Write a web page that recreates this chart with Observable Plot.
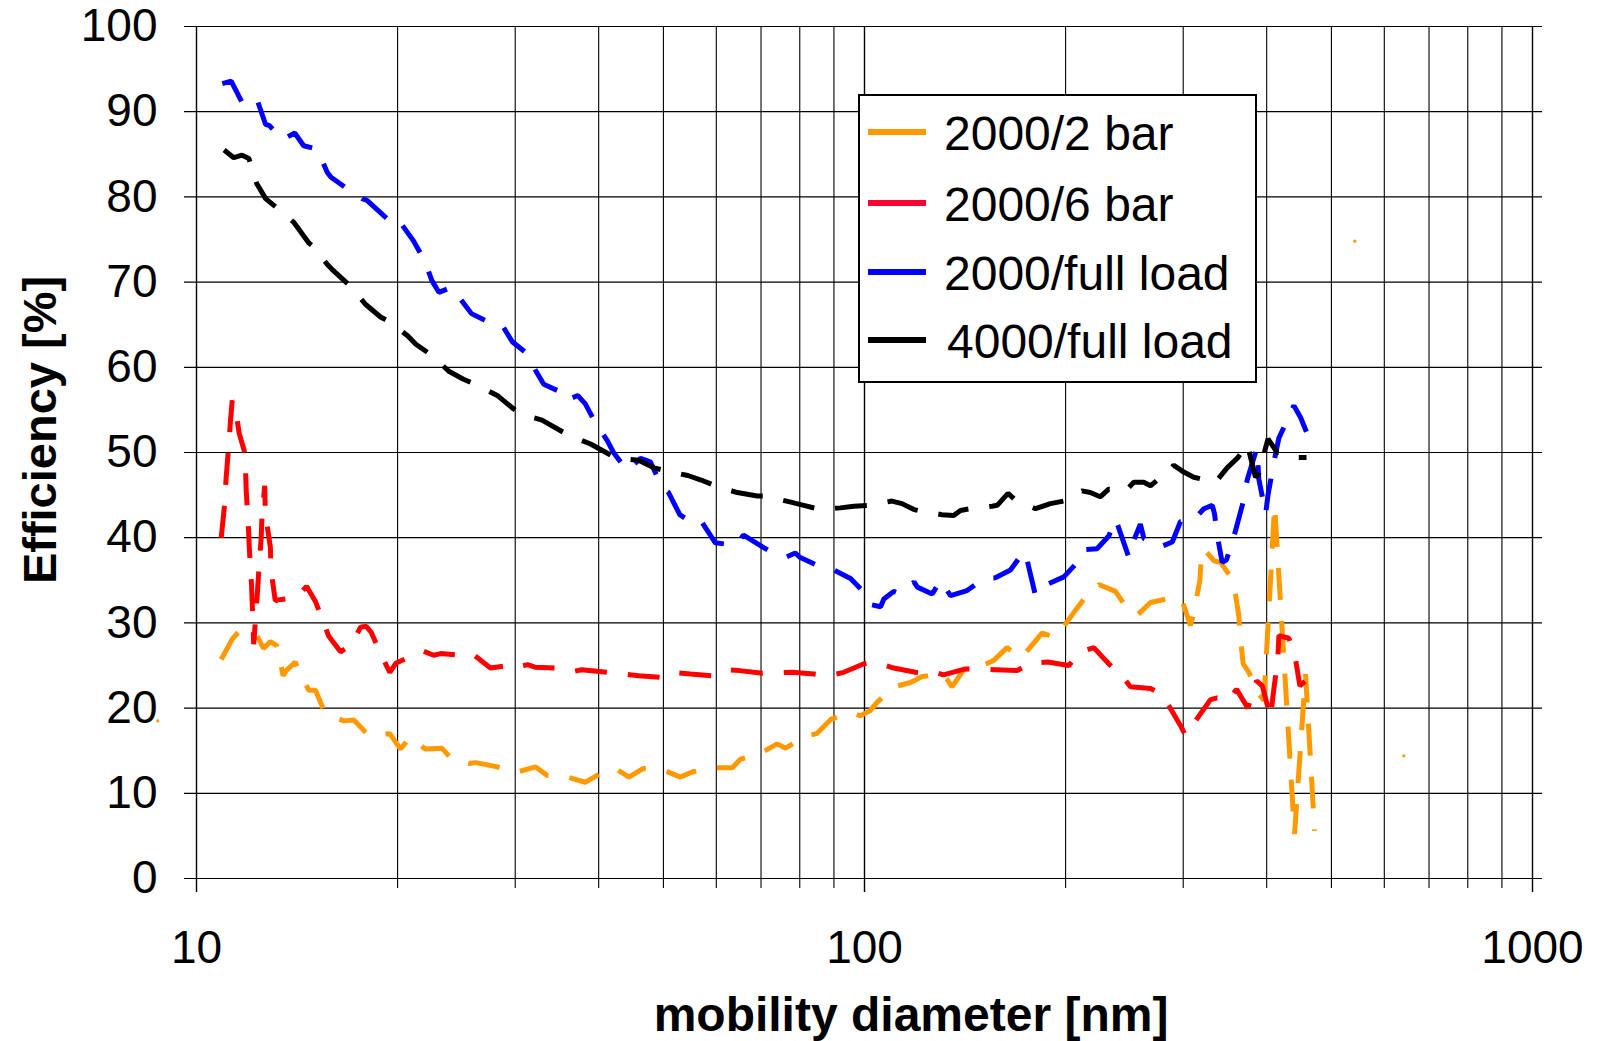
<!DOCTYPE html>
<html>
<head>
<meta charset="utf-8">
<script src="https://cdn.jsdelivr.net/npm/d3@7"></script>
<script src="https://cdn.jsdelivr.net/npm/@observablehq/plot@0.6"></script>
<style>
  html, body { margin: 0; padding: 0; background: #fff; }
  #chart { position: relative; width: 1601px; height: 1041px; }
</style>
</head>
<body>
<div id="chart"></div>
<script>
// Particle removal efficiency vs. mobility diameter, four engine operating points.
// Each series: [mobility diameter (nm), efficiency (%)]
const series2000_2bar = [
  [10.89,25.7],[11.31,28.1],[11.61,29.1],[12.32,28.5],[12.6,27.0],[12.9,27.8],[13.2,27.3],
  [13.48,23.8],[13.62,24.4],[14.06,25.4],[14.2,24.4],[14.73,22.1],[15.07,22.1],[15.6,19.3],
  [16.62,18.5],[17.2,18.6],[18.1,16.8],[19.47,17.0],[20.2,15.2],[20.9,16.6],[22.0,15.2],
  [23.3,15.3],[24.1,14.0],[25.6,13.5],[26.2,13.6],[28.2,13.1],[30.2,12.5],[32.2,13.1],
  [33.5,12.1],[35.9,11.9],[38.2,11.3],[39.8,12.1],[42.4,12.9],[44.4,11.9],[46.6,12.9],
  [50.1,12.7],[53.0,11.9],[55.2,12.5],[59.1,13.0],[63.4,13.0],[65.2,14.0],[69.5,14.6],
  [74.0,15.8],[76.2,15.3],[81.6,16.7],[84.8,17.0],[89.1,18.7],[95.3,19.5],[98.6,19.1],
  [102,19.7],[104.5,20.7],[110.6,22.5],[117.2,23.0],[122,23.7],[131.3,24.0],[135.2,22.5],
  [140.5,24.4],[150,25.0],[156.2,25.6],[163.4,27.1],[171.2,25.9],[176.5,27.0],[184.4,28.8],
  [193.2,28.3],[198.8,29.6],[207,31.5],[216,33.4],[224.3,34.5],[237.5,33.7],[247.3,31.7],
  [256,30.9],[268,32.4],[290.4,33.0],[299,32.6],[307.6,29.7],[311,31.1],[317.7,35.0],
  [319.3,37.7],[322.1,38.7],[333.4,37.3],[341.1,37.1],[356.4,35.0],[363.3,30.9],[365.5,28.1],
  [368.9,25.2],[376.2,24.2],[387.1,21.9],[396.2,20.9],[411.1,43.8],[440.3,5.2],[457.4,24.0],
  [471.8,5.6]
];
// isolated readings of the 2000/2 bar run that have no neighbours
const series2000_2bar_single = [[8.75,18.5],[542,74.8],[641.6,14.4]];

const series2000_6bar = [
  [10.89,40.0],[11.02,44.0],[11.07,46.8],[11.18,51.0],[11.24,53.6],[11.31,56.1],[11.45,54.8],
  [11.59,52.2],[11.81,50.0],[11.84,48.1],[11.87,45.5],[11.96,41.2],[12.0,38.6],[12.09,34.4],
  [12.18,27.5],[12.33,33.3],[12.39,35.9],[12.5,40.1],[12.53,42.4],[12.65,46.1],[12.68,42.8],
  [12.9,38.9],[12.93,36.2],[13.12,32.6],[13.24,32.7],[14.15,33.0],[14.61,34.3],[15.07,32.5],
  [15.51,30.0],[15.76,28.5],[16.43,26.6],[17.09,27.5],[17.6,29.5],[17.95,29.6],[18.26,28.9],
  [18.86,26.4],[19.47,24.2],[19.9,25.3],[21.0,26.1],[21.84,26.7],[22.65,26.2],[23.2,26.4],
  [25.0,26.2],[25.95,26.3],[27.55,24.7],[29.2,25.0],[29.8,24.7],[31.3,25.1],[32.1,24.8],
  [34.7,24.7],[36.7,24.3],[37.7,24.5],[41.4,24.2],[43.6,24.0],[45.9,23.8],[49.5,23.6],
  [51.2,24.2],[54.9,24.0],[59.1,23.8],[61.9,24.5],[65.0,24.4],[70.3,24.1],[77.9,24.2],
  [84.0,24.0],[88.4,23.8],[93.1,24.2],[99.8,25.2],[103.3,25.4],[110.6,24.7],[119.2,24.2],
  [123.4,24.1],[126.3,24.3],[131.3,23.9],[141.6,24.6],[157,24.5],[169.2,24.4],[177.3,25.3],
  [188,25.4],[202.2,25.0],[210.6,26.6],[220.4,27.1],[232.1,25.2],[243,23.8],[250.1,22.5],
  [268,22.3],[277.4,21.7],[286.4,20.1],[297.9,17.8],[302.3,16.8],[315.5,18.9],[329.6,21.0],
  [337.3,21.2],[349.1,20.8],[360.6,22.2],[374.9,20.0],[386.3,23.2],[394,22.6],[405.4,18.9],
  [409.2,21.7],[415.7,25.8],[417.2,28.5],[431.8,28.2],[441.9,25.7],[448.5,22.6],[465.3,23.7]
];

const series2000_full = [
  [10.93,93.3],[11.27,93.6],[11.7,91.1],[12.3,91.6],[12.69,88.5],[12.85,88.4],[13.43,86.7],
  [14.03,87.5],[14.47,86.0],[15.16,85.6],[15.69,82.9],[15.9,82.3],[17.0,80.7],[17.7,79.8],
  [18.0,79.6],[18.64,78.5],[19.63,76.9],[20.1,77.2],[21.1,74.9],[21.97,72.5],[22.5,70.2],
  [23.06,68.8],[24.1,69.4],[25.8,66.3],[27.4,65.3],[28.7,64.9],[29.7,63.0],[31.26,61.6],
  [32.2,59.6],[33.1,58.0],[35.1,57.1],[35.8,56.1],[37.2,56.7],[38.2,55.7],[39.6,53.4],
  [41.2,51.4],[42.1,50.0],[44.1,47.9],[46.2,49.3],[47.8,48.9],[49.8,45.9],[50.9,45.3],
  [52.9,42.7],[55.8,41.5],[57.1,41.8],[59.8,39.4],[64.1,39.1],[65.9,40.3],[69.1,39.3],
  [73.2,38.1],[76.2,37.7],[78.8,38.2],[80.0,37.7],[86.4,36.5],[90.0,36.2],[95.3,35.2],
  [99.8,33.6],[101.5,32.2],[105.7,31.9],[106.9,32.8],[110.6,33.7],[113.2,33.4],[118.6,34.8],
  [120,34.2],[126.3,33.4],[130,35.0],[134.5,33.2],[142.4,33.8],[150.9,35.2],[157,35.3],
  [165.4,36.2],[173.2,38.4],[175,37.5],[180.3,33.2],[188.7,34.6],[198.8,35.4],[208.2,37.1],
  [212.8,38.6],[222.9,38.7],[232.1,40.2],[237.6,42.2],[248.7,37.7],[253,39.7],[258.8,41.6],
  [262,39.9],[276.8,38.9],[288.9,39.5],[297.2,41.9],[311.1,42.1],[322.1,43.4],[331.6,43.8],
  [334.2,42.8],[337.3,40.3],[343.1,37.1],[348.3,37.4],[357.2,40.1],[368.9,44.2],[374.1,46.8],
  [384.9,50.0],[387,50.5],[389.3,46.9],[398.6,42.8],[401.8,45.0],[411.1,49.3],[417.2,51.7],
  [439.3,55.5],[449.6,54.1],[460.1,52.2]
];

const series4000_full = [
  [11.0,85.5],[11.37,84.6],[11.7,84.9],[11.98,84.5],[12.3,81.6],[12.69,79.8],[13.2,78.7],
  [13.99,77.0],[14.73,74.6],[14.9,74.3],[15.69,72.1],[16.0,71.4],[17.0,69.5],[17.9,67.4],
  [18.86,65.9],[19.5,65.3],[20.7,63.7],[21.3,62.7],[22.5,61.4],[23.9,59.5],[25.1,58.6],
  [26.3,57.9],[28.2,56.7],[29.85,55.1],[30.6,54.5],[32.9,53.8],[36.1,52.0],[38.9,51.0],
  [42.6,49.3],[45.9,49.1],[48.4,48.2],[50.7,47.8],[54.4,47.3],[56.8,46.8],[60.2,46.0],
  [64.5,45.3],[69.1,44.9],[71,44.9],[77.3,44.2],[81.1,43.8],[85.9,43.3],[92,43.5],
  [96.4,43.7],[102,43.8],[109.9,44.3],[113.8,44.0],[118.6,43.3],[122,43.1],[130.6,42.7],
  [136,42.6],[139.2,43.2],[144.1,43.4],[155.2,43.7],[158,43.8],[164,45.2],[168.3,44.4],
  [180.3,43.4],[189.8,44.0],[198.8,44.3],[211.6,45.5],[217.8,45.3],[225.4,44.8],[232,45.7],
  [245.9,45.5],[253,46.5],[261.9,46.5],[268,46.1],[283.9,47.7],[290.4,48.5],[300.6,47.7],
  [311.1,47.1],[335.3,46.5],[349,48.2],[362.2,49.4],[374.1,51.0],[384.9,47.1],[389.3,47.5],
  [401.8,51.6],[414.8,50.0],[429.4,49.9],[444.4,49.4],[458.9,49.4]
];

const seriesNames  = ["2000/2 bar", "2000/6 bar", "2000/full load", "4000/full load"];
const seriesColors = ["#FF9900", "#FF0000", "#0000FF", "#000000"];
const legendColors = ["#FF9900", "#FF0033", "#0000FF", "#000000"];
const seriesData   = [series2000_2bar, series2000_6bar, series2000_full, series4000_full];

const yTicks      = [0, 10, 20, 30, 40, 50, 60, 70, 80, 90, 100];
const xTickLabels = [10, 100, 1000];
const xMinorGrid  = [20, 30, 40, 50, 60, 70, 80, 90, 200, 300, 400, 500, 600, 700, 800, 900];

const font = "'Liberation Sans', Arial, Helvetica, sans-serif";

const lineMarks = seriesData.map((data, i) =>
  Plot.line(data, {
    x: d => d[0], y: d => d[1],
    stroke: seriesColors[i], strokeWidth: 5,
    strokeDasharray: "32,21", strokeLinecap: "butt", strokeLinejoin: "miter"
  })
);

const chart = Plot.plot({
  width: 1601,
  height: 1041,
  marginLeft: 196,
  marginRight: 69,
  marginTop: 26,
  marginBottom: 163,
  style: { fontFamily: font, background: "#fff", overflow: "visible" },
  x: { type: "log", domain: [10, 1000] },
  y: { domain: [0, 100] },
  marks: [
    // grid; the rules reach past the frame to double as tick marks
    Plot.ruleY(yTicks, { stroke: "#000", strokeWidth: 1.2, insetLeft: -12, insetRight: -10 }),
    Plot.ruleX(xMinorGrid, { stroke: "#000", strokeWidth: 1.1, insetBottom: -10 }),
    Plot.ruleX(xTickLabels, { stroke: "#000", strokeWidth: 1.4, insetBottom: -14 }),
    Plot.axisY({ ticks: yTicks, tickSize: 0, tickPadding: 39, fontSize: 46, label: null, fill: "#000" }),
    Plot.axisX({ ticks: xTickLabels, tickFormat: d => String(d), tickSize: 0, tickPadding: 52,
                 fontSize: 46, label: null, fill: "#000" }),
    ...lineMarks,
    Plot.dot(series2000_2bar_single, { x: d => d[0], y: d => d[1], r: 1.6, fill: seriesColors[0] })
  ]
});

document.getElementById("chart").appendChild(chart);

// axis titles and boxed legend drawn into the same SVG
const svg = d3.select(chart);

svg.append("text")
  .attr("transform", "translate(56,430) rotate(-90)")
  .attr("text-anchor", "middle")
  .attr("font-family", font).attr("font-size", 47).attr("font-weight", "bold")
  .attr("fill", "#000")
  .text("Efficiency [%]");

svg.append("text")
  .attr("x", 911).attr("y", 1031)
  .attr("text-anchor", "middle")
  .attr("font-family", font).attr("font-size", 48).attr("font-weight", "bold")
  .attr("fill", "#000")
  .text("mobility diameter [nm]");

const legend = svg.append("g").attr("transform", "translate(859,95)");
legend.append("rect")
  .attr("width", 397).attr("height", 287)
  .attr("fill", "#fff").attr("stroke", "#000").attr("stroke-width", 2);
const rowY = [37, 108, 177, 245];
seriesNames.forEach((name, i) => {
  legend.append("line")
    .attr("x1", 9).attr("x2", 67).attr("y1", rowY[i]).attr("y2", rowY[i])
    .attr("stroke", legendColors[i]).attr("stroke-width", 6);
  legend.append("text")
    .attr("x", i === 3 ? 88 : 85).attr("y", rowY[i] + 17.5)
    .attr("text-anchor", "start")
    .attr("font-family", font).attr("font-size", 48).attr("fill", "#000")
    .text(name);
});
</script>
</body>
</html>
